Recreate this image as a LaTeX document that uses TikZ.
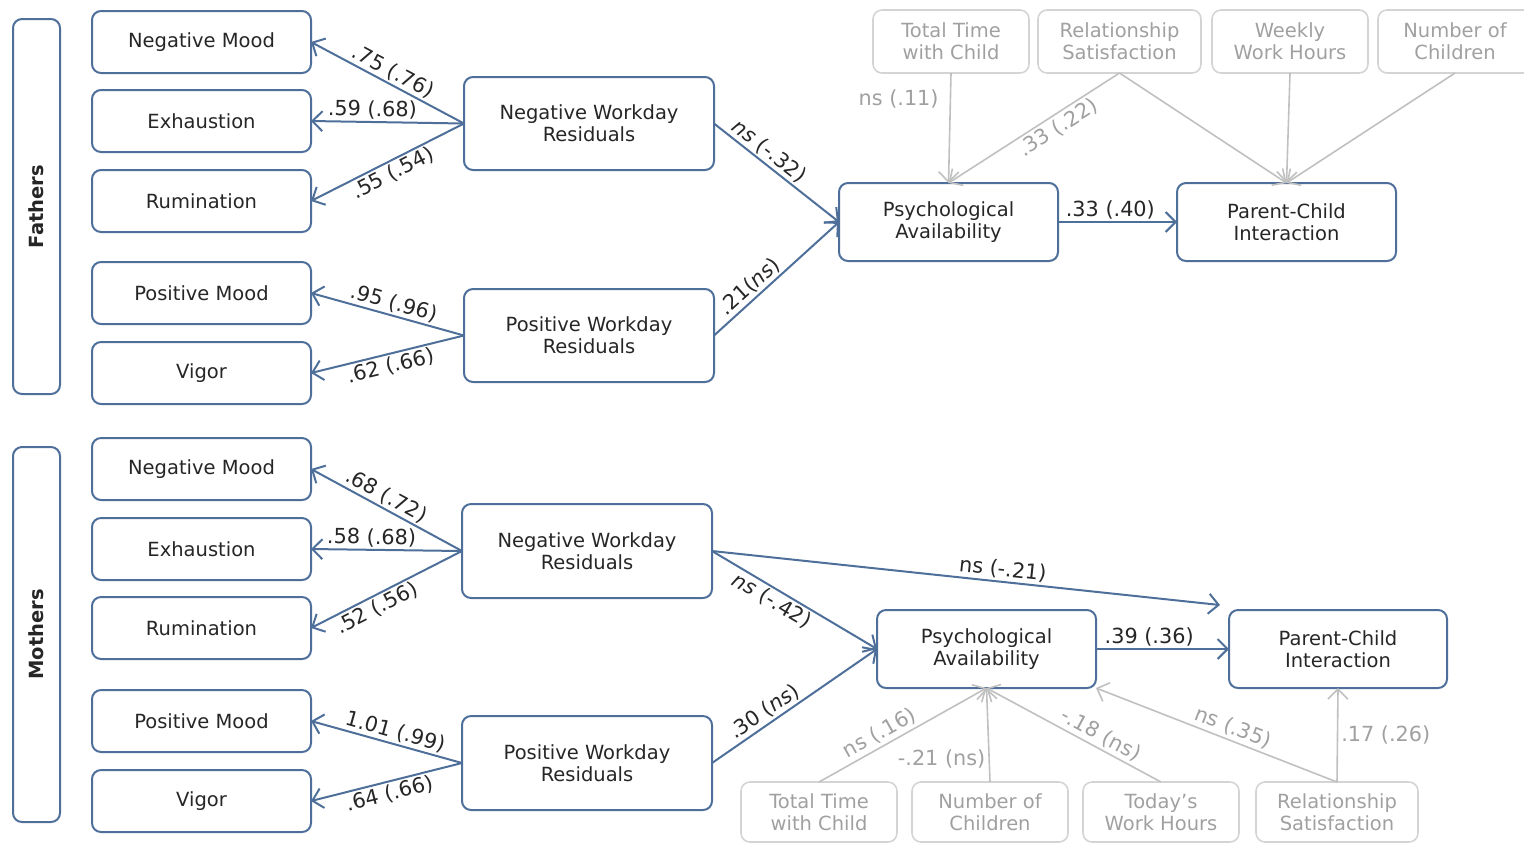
\documentclass[tikz,border=0pt]{standalone}
\usepackage{fontspec}
\setmainfont{DejaVu Sans}
\usetikzlibrary{arrows.meta}
\definecolor{bl}{RGB}{79,111,155}
\definecolor{txt}{RGB}{38,38,38}
\definecolor{gb}{RGB}{212,212,212}
\definecolor{gl}{RGB}{192,192,192}
\definecolor{gt}{RGB}{160,160,160}
\newcommand\mybox[7]{\node[#1, minimum width={(#4-#2)*0.5pt}, minimum height={(#5-#3)*0.5pt}] (#6) at ({(#2+#4)/2},{(#3+#5)/2}) {#7};}
\begin{document}
\begin{tikzpicture}[x=0.5pt,y=-0.5pt, font=\fontsize{9.75pt}{11pt}\selectfont, text=txt,
 box/.style={draw=bl, line width=1pt, rounded corners=4.5pt, align=center, inner sep=0pt, outer sep=0pt, text=txt},
 gbox/.style={draw=gb, line width=0.8pt, rounded corners=4.5pt, align=center, inner sep=0pt, outer sep=0pt, text=gt},
 grp/.style={draw=bl, line width=1pt, rounded corners=4.5pt, inner sep=0pt, outer sep=0pt},
 arr/.style={draw=bl, line width=1pt, -{Straight Barb[length=5pt,width=10pt]}},
 rarr/.style={draw=bl, line width=1pt, {Straight Barb[length=5pt,width=10pt]}-},
 garr/.style={draw=gl, line width=0.8pt, -{Straight Barb[length=5pt,width=10pt]}},
 rgarr/.style={draw=gl, line width=0.8pt, {Straight Barb[length=5pt,width=10pt]}-},
 lbl/.style={inner sep=1pt, sloped, text=txt, font=\fontsize{10.4pt}{12pt}\selectfont},
 glbl/.style={inner sep=1.5pt, text=gt, font=\fontsize{10.4pt}{12pt}\selectfont}]
\useasboundingbox (0,0) rectangle (1524,843);
\clip (0,0) rectangle (1524,843);
% group labels
\mybox{grp}{13}{19}{60}{394}{fathers}{}
\node[rotate=90, font=\fontsize{9.75pt}{11pt}\selectfont\bfseries] (fatherslbl) at (fathers.center) {Fathers};
\mybox{grp}{13}{447}{60}{822}{mothers}{}
\node[rotate=90, font=\fontsize{9.75pt}{11pt}\selectfont\bfseries] (motherslbl) at (mothers.center) {Mothers};
% fathers
\mybox{box}{92}{11}{311}{73}{negF}{Negative Mood}
\mybox{box}{92}{90}{311}{152}{exhF}{Exhaustion}
\mybox{box}{92}{170}{311}{232}{rumF}{Rumination}
\mybox{box}{92}{262}{311}{324}{posF}{Positive Mood}
\mybox{box}{92}{342}{311}{404}{vigF}{Vigor}
\mybox{box}{464}{77}{714}{170}{nwrF}{Negative Workday\\Residuals}
\mybox{box}{464}{289}{714}{382}{pwrF}{Positive Workday\\Residuals}
\mybox{box}{839}{183}{1058}{261}{psyF}{Psychological\\Availability}
\mybox{box}{1177}{183}{1396}{261}{pciF}{Parent-Child\\Interaction}
\mybox{gbox}{873}{10}{1029}{73}{totF}{Total Time\\with Child}
\mybox{gbox}{1038}{10}{1201}{73}{relF}{Relationship\\Satisfaction}
\mybox{gbox}{1212}{10}{1368}{73}{wwhF}{Weekly\\Work Hours}
\mybox{gbox}{1378}{10}{1532}{73}{nocF}{Number of\\Children}
% mothers
\mybox{box}{92}{438}{311}{500}{negM}{Negative Mood}
\mybox{box}{92}{518}{311}{580}{exhM}{Exhaustion}
\mybox{box}{92}{597}{311}{659}{rumM}{Rumination}
\mybox{box}{92}{690}{311}{752}{posM}{Positive Mood}
\mybox{box}{92}{770}{311}{832}{vigM}{Vigor}
\mybox{box}{462}{504}{712}{598}{nwrM}{Negative Workday\\Residuals}
\mybox{box}{462}{716}{712}{810}{pwrM}{Positive Workday\\Residuals}
\mybox{box}{877}{610}{1096}{688}{psyM}{Psychological\\Availability}
\mybox{box}{1229}{610}{1447}{688}{pciM}{Parent-Child\\Interaction}
\mybox{gbox}{741}{782}{897}{842}{totM}{Total Time\\with Child}
\mybox{gbox}{912}{782}{1068}{842}{nocM}{Number of\\Children}
\mybox{gbox}{1083}{782}{1239}{842}{twhM}{Today's\\Work Hours}
\mybox{gbox}{1256}{782}{1418}{842}{relM}{Relationship\\Satisfaction}
\coordinate (endM) at (1220,605);
% fathers arrows
\draw[rarr] (negF.east) -- node[lbl, above, pos=0.5] {.75 (.76)} (nwrF.west);
\draw[rarr] (exhF.east) -- node[lbl, above, pos=0.4] {.59 (.68)} (nwrF.west);
\draw[rarr] (rumF.east) -- node[lbl, below, pos=0.5] {.55 (.54)} (nwrF.west);
\draw[rarr] (posF.east) -- node[lbl, above, pos=0.52] {.95 (.96)} (pwrF.west);
\draw[rarr] (vigF.east) -- node[lbl, below, pos=0.5] {.62 (.66)} (pwrF.west);
\draw[arr] (nwrF.east) -- node[lbl, above, pos=0.38] {\textit{ns} (-.32)} (psyF.west);
\draw[arr] (pwrF.east) -- node[lbl, above, pos=0.35] {.21(\textit{ns})} (psyF.west);
\draw[arr] (psyF.east) -- node[lbl, above, pos=0.44] {.33 (.40)} (pciF.west);
\draw[garr] (totF.south) -- node[glbl, left, pos=0.24, xshift=-4pt] {ns (.11)} (psyF.north);
\draw[rgarr] (psyF.north) -- node[glbl, sloped, below, pos=0.6] {.33 (.22)} (relF.south);
\draw[garr] (relF.south) -- (pciF.north);
\draw[garr] (wwhF.south) -- (pciF.north);
\draw[garr] (nocF.south) -- (pciF.north);
% mothers arrows
\draw[rarr] (negM.east) -- node[lbl, above, pos=0.46] {.68 (.72)} (nwrM.west);
\draw[rarr] (exhM.east) -- node[lbl, above, pos=0.4] {.58 (.68)} (nwrM.west);
\draw[rarr] (rumM.east) -- node[lbl, below, pos=0.4] {.52 (.56)} (nwrM.west);
\draw[rarr] (posM.east) -- node[lbl, above, pos=0.54] {1.01 (.99)} (pwrM.west);
\draw[rarr] (vigM.east) -- node[lbl, below, pos=0.5] {.64 (.66)} (pwrM.west);
\draw[arr] (nwrM.east) -- node[lbl, below, pos=0.4] {\textit{ns} (-.42)} (psyM.west);
\draw[arr] (pwrM.east) -- node[lbl, above, pos=0.36] {.30 (\textit{ns})} (psyM.west);
\draw[arr] (nwrM.east) -- node[lbl, above, pos=0.57] {ns (-.21)} (endM);
\draw[arr] (psyM.east) -- node[lbl, above, pos=0.4] {.39 (.36)} (pciM.west);
\draw[garr] (totM.north) -- node[glbl, sloped, above, pos=0.4] {ns (.16)} (psyM.south);
\draw[garr] (nocM.north) -- node[glbl, left, pos=0.25] {-.21 (ns)} (psyM.south);
\draw[rgarr] (psyM.south) -- node[glbl, sloped, above, pos=0.62] {-.18 (ns)} (twhM.north);
\draw[rgarr] (psyM.south east) -- node[glbl, sloped, above, pos=0.55] {ns (.35)} (relM.north);
\draw[rgarr] (pciM.south) -- node[glbl, right, pos=0.5] {.17 (.26)} (relM.north);
\end{tikzpicture}
\end{document}
